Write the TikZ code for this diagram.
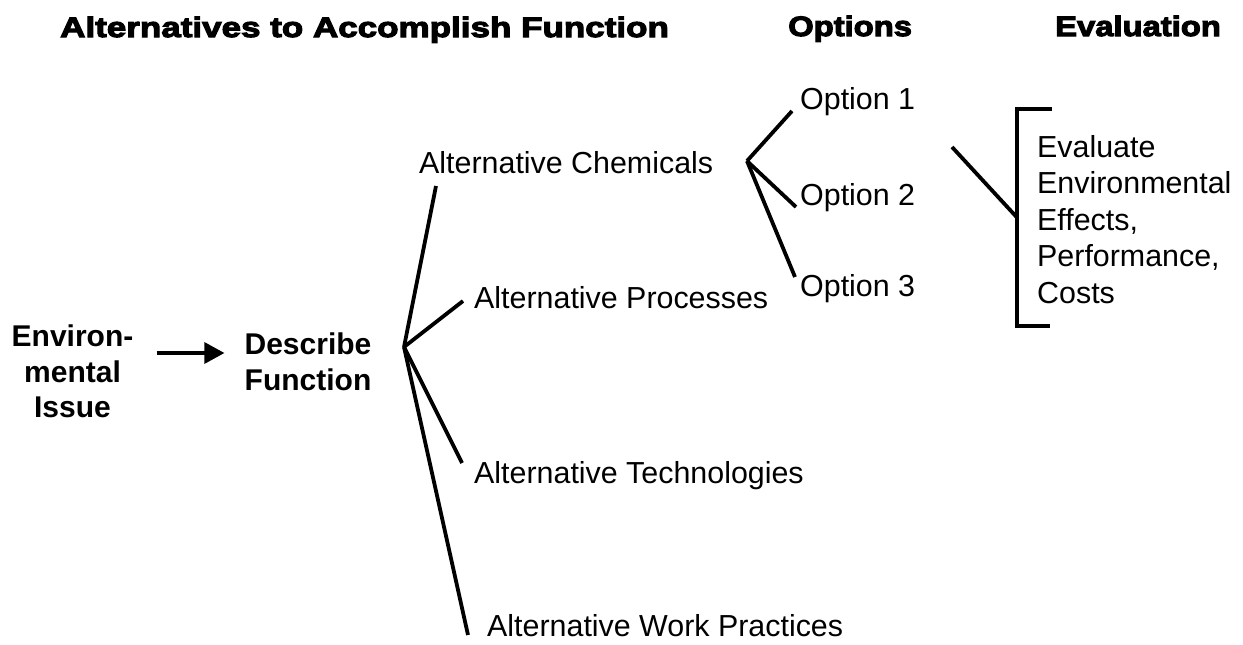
\documentclass[tikz,border=0pt]{standalone}
\usepackage{fontspec}
\setmainfont{Liberation Sans}
\newfontfamily\headfont{Liberation Sans}[BoldFeatures={FakeBold=4,FakeStretch=1.25}]
\newfontfamily\colfont{Liberation Sans}[BoldFeatures={FakeBold=4,FakeStretch=1.17}]
\usetikzlibrary{calc}
\usetikzlibrary{arrows.meta}

\begin{document}
\begin{tikzpicture}[x=1pt,y=-1pt,
  lbl/.style={inner sep=0pt,font=\fontsize{30.4}{36}\selectfont},
  key/.style={inner sep=0pt,align=center,font=\fontsize{30}{35.5}\selectfont\bfseries},
  head/.style={inner sep=0pt,font=\headfont\bfseries\fontsize{28}{32}\selectfont},
  colhead/.style={inner sep=0pt,font=\colfont\bfseries\fontsize{28}{32}\selectfont},
  branch/.style={line width=3.8pt},
  arr/.style={line width=3.2pt,-{Triangle[length=20pt,width=21pt]}}]
\useasboundingbox (0,0) rectangle (1243,645);
% column heads
\node[head,anchor=base west] (hfun) at (60,37) {Alternatives to Accomplish Function};
\node[colhead,anchor=base west] (hopt) at (788,36) {Options};
\node[colhead,anchor=base west] (heval) at (1055,36) {Evaluation};
% left part
\node[key,anchor=north] (env) at (72.5,325) {Environ-\\mental\\Issue};
\node[key,anchor=north] (desc) at (308,333) {Describe\\Function};
\coordinate (arrowlevel) at (0,353);
\draw[arr,shorten <=23pt,shorten >=20pt] (env.east |- arrowlevel) -- (desc.west |- arrowlevel);
% alternatives
\node[lbl,anchor=base west] (chem) at (419,173) {Alternative Chemicals};
\node[lbl,anchor=base west] (proc) at (474,308) {Alternative Processes};
\node[lbl,anchor=base west] (tech) at (474,483) {Alternative Technologies};
\node[lbl,anchor=base west] (work) at (487,636) {Alternative Work Practices};
\coordinate (fork) at (404,347);
\draw[branch] (fork) -- ([shift={(17,13)}]chem.base west);
\draw[branch] (fork) -- ([shift={(-11,-7)}]proc.base west);
\draw[branch] (fork) -- ([shift={(-12,-20)}]tech.base west);
\draw[branch] (fork) -- ([shift={(-19,-1)}]work.base west);
% options
\node[lbl,anchor=base west] (opt1) at (800,109) {Option 1};
\node[lbl,anchor=base west] (opt2) at (800,205) {Option 2};
\node[lbl,anchor=base west] (opt3) at (800,296) {Option 3};
\coordinate (optfork) at (747,161);
\draw[branch] (optfork) -- ([shift={(-8,2)}]opt1.base west);
\draw[branch] (optfork) -- ([shift={(-4,2)}]opt2.base west);
\draw[branch] (optfork) -- ([shift={(-5,-19)}]opt3.base west);
% evaluation
\node[lbl,anchor=north west,align=left,font=\fontsize{30.4}{36.5}\selectfont] (eval) at (1037,135)
  {Evaluate\\Environmental\\Effects,\\Performance,\\Costs};
\coordinate (brtop) at (1017,109);
\coordinate (brbot) at (1017,326);
\coordinate (evalin) at (952,147);
\draw[line width=4.2pt] ([xshift=35pt]brtop) -- (brtop) -- (brbot) -- ([xshift=33pt]brbot);
\draw[branch] (evalin) -- ($(brtop)!0.5!(brbot)$);
\end{tikzpicture}
\end{document}
